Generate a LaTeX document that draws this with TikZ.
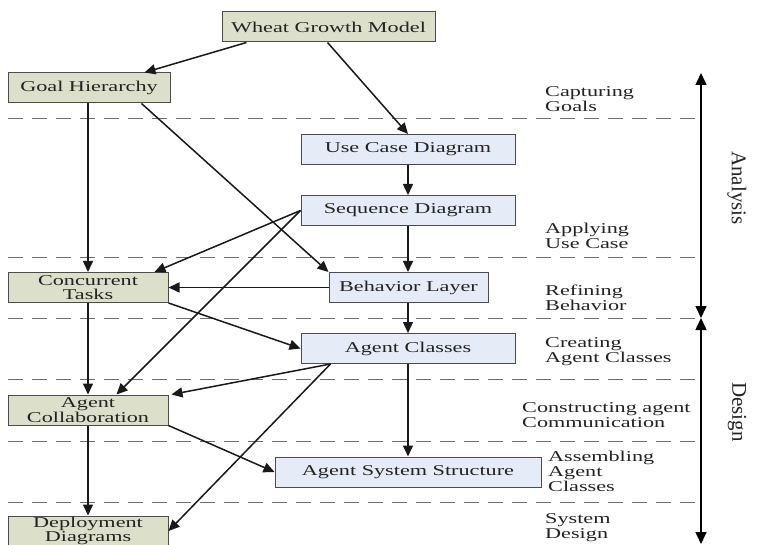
\documentclass[tikz,border=0pt]{standalone}
\usepackage{fontspec}
\setmainfont{Liberation Serif}[FakeStretch=1.48]
\newfontfamily\rotfont{Liberation Serif}
\usetikzlibrary{arrows.meta}
\definecolor{greenbox}{RGB}{220,223,202}
\definecolor{bluebox}{RGB}{229,235,247}
\definecolor{txt}{RGB}{35,35,35}
\definecolor{dashgray}{RGB}{110,110,110}
\begin{document}
\begin{tikzpicture}[x=1pt,y=-1pt,
  box/.style={draw=black!70, line width=1pt, minimum height=30pt, inner sep=0pt,
    text=txt, align=center, font=\fontsize{15}{14.5}\selectfont},
  gbox/.style={box, fill=greenbox},
  bbox/.style={box, fill=bluebox},
  conn/.style={line width=1.5pt, black!90, -{Triangle[length=11pt,width=10pt]}},
  sep/.style={dashgray, line width=0.9pt, dash pattern=on 15pt off 9pt},
  lbl/.style={anchor=west, align=left, inner sep=0pt, text=txt, font=\fontsize{15}{15}\selectfont},
  phase/.style={rotate=-90, inner sep=0pt, text=txt, font=\rotfont\fontsize{21}{21}\selectfont},
  axis/.style={line width=1.5pt, black, -{Triangle[length=12pt,width=11pt]}}]
\useasboundingbox (0,0) rectangle (757,545);
\clip (0,0) rectangle (757,545);

% dashed separators
\foreach \yy/\nm in {118/s1,257/s2,318/s3,379/s4,441/s5,502/s6}{
  \coordinate (\nm a) at (8,\yy);
  \coordinate (\nm b) at (701,\yy);
  \draw[sep] (\nm a) -- (\nm b);
}

% phase axes
\coordinate (an1) at (701,73);
\coordinate (an2) at (701,318);
\coordinate (de1) at (701,318);
\coordinate (de2) at (701,544);
\coordinate (mid) at (701,196);
\draw[axis] (mid) -- (an1);
\draw[axis] (mid) -- (an2);
\coordinate (mid2) at (701,430);
\draw[axis] (mid2) -- (de1);
\draw[axis] (mid2) -- (de2);
\node[phase] (analysis) at (737,188) {Analysis};
\node[phase] (design) at (737,412) {Design};

% nodes
\node[gbox, minimum width=213pt] (wgm) at (328.5,27) {Wheat Growth Model};
\node[gbox, minimum width=162pt] (gh) at (89,88) {Goal Hierarchy};
\node[bbox, minimum width=214pt] (ucd) at (408,149.5) {Use Case Diagram};
\node[bbox, minimum width=214pt] (sd) at (408,210.5) {Sequence Diagram};
\node[gbox, minimum width=160pt] (ct) at (88,287.5) {Concurrent\\Tasks};
\node[bbox, minimum width=159pt] (bl) at (408.5,287.5) {Behavior Layer};
\node[bbox, minimum width=214pt] (acl) at (408,348.5) {Agent Classes};
\node[gbox, minimum width=160pt] (ac) at (88,410) {Agent\\Collaboration};
\node[bbox, minimum width=266pt] (ass) at (408,472) {Agent System Structure};
\node[gbox, minimum width=160pt] (dd) at (88,531) {Deployment\\Diagrams};

% right labels
\node[lbl] (l1) at (545,99) {Capturing\\Goals};
\node[lbl] (l2) at (545,235.5) {Applying\\Use Case};
\node[lbl] (l3) at (545,297.5) {Refining\\Behavior};
\node[lbl] (l4) at (545,352) {Creating\\Agent Classes};
\node[lbl] (l5) at (522,415.5) {Constructing agent\\Communication};
\node[lbl] (l6) at (548,471) {Assembling\\Agent\\Classes};
\node[lbl] (l7) at (545,527.5) {System\\Design};

% connectors
\draw[conn] ([xshift=25pt]wgm.south west) -- ([xshift=137pt]gh.north west);
\draw[conn] ([xshift=106pt]wgm.south west) -- (ucd.north);
\draw[conn] ([xshift=-1pt]gh.south) -- (ct.north);
\draw[conn] ([xshift=134pt]gh.south west) -- (bl.north west);
\draw[conn] (ucd.south) -- (sd.north);
\draw[conn] (sd.west) -- ([xshift=147pt]ct.north west);
\draw[conn] (sd.west) -- ([xshift=109pt]ac.north west);
\draw[conn] (sd.south) -- (sd.south |- bl.north);
\draw[conn] (bl.west) -- (ct.east);
\draw[conn] (ct.south east) -- (acl.west);
\draw[conn] (bl.south -| acl.north) -- (acl.north);
\draw[conn] (ct.south) -- (ac.north);
\draw[conn] ([xshift=30pt]acl.south west) -- ([xshift=3pt]ac.north east);
\draw[conn] (acl.south) -- (ass.north);
\draw[conn] ([xshift=30pt]acl.south west) -- (dd.east);
\draw[conn] (ac.south east) -- (ass.west);
\draw[conn] (ac.south) -- (dd.north);
\end{tikzpicture}
\end{document}
